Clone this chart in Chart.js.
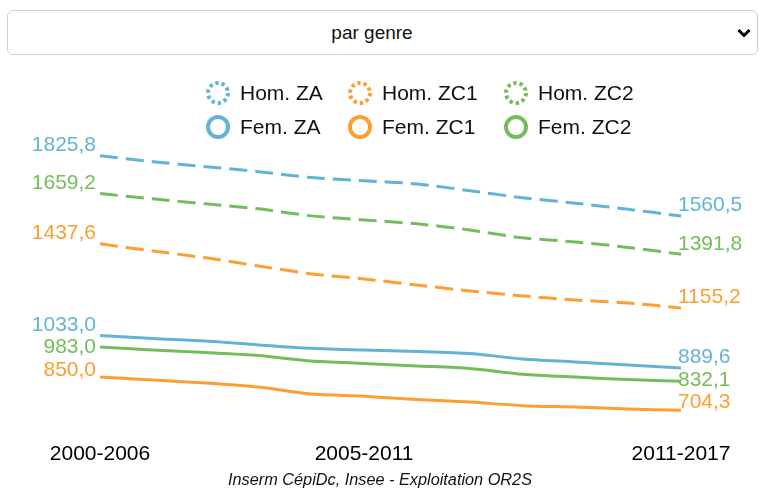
<!DOCTYPE html>
<html lang="fr">
<head>
<meta charset="utf-8">
<title>Mortalité par genre</title>
<script src="https://cdn.jsdelivr.net/npm/chart.js@4.4.1/dist/chart.umd.min.js"></script>
<style>
  html, body { margin: 0; padding: 0; background: #fff; }
  body {
    position: relative;
    width: 760px;
    height: 488px;
    overflow: hidden;
    font-family: "Liberation Sans", Arial, sans-serif;
  }
  #filtre {
    position: absolute;
    left: 7px;
    top: 10px;
    width: 751px;
    height: 45px;
    box-sizing: border-box;
    padding: 0 31px 0 10px;
    border: 1px solid #cfcfcf;
    border-radius: 6px;
    background: #fff url("data:image/svg+xml,%3Csvg xmlns='http://www.w3.org/2000/svg' width='14' height='10'%3E%3Cpath d='M1.5 2 L7 7.5 L12.5 2' fill='none' stroke='%23000' stroke-width='3'/%3E%3C/svg%3E") no-repeat right 6px center;
    -webkit-appearance: none;
    appearance: none;
    font: 19px "Liberation Sans", Arial, sans-serif;
    color: #111;
    text-align: center;
    text-align-last: center;
  }
  #legende {
    position: absolute;
    left: 206px;
    top: 81px;
    display: grid;
    grid-template-columns: 142px 156px auto;
    row-gap: 10px;
  }
  .item {
    display: flex;
    align-items: center;
    height: 24px;
    font-size: 21px;
    color: #111;
    white-space: nowrap;
  }
  .item svg { margin-right: 10px; flex: none; }
  #zone {
    position: absolute;
    left: 0;
    top: 60px;
    width: 760px;
    height: 430px;
  }
</style>
</head>
<body>
<select id="filtre">
  <option selected>par genre</option>
  <option>ensemble</option>
</select>
<div id="zone"><canvas id="evolution"></canvas></div>
<div id="legende"></div>

<script>
const periods = [
  "2000-2006", "2001-2007", "2002-2008", "2003-2009", "2004-2010", "2005-2011",
  "2006-2012", "2007-2013", "2008-2014", "2009-2015", "2010-2016", "2011-2017",
];
const shownPeriods = ["2000-2006", "2005-2011", "2011-2017"];

const homZA = [1825.8, 1800, 1778, 1756, 1730, 1716, 1702, 1672, 1641, 1617, 1590, 1560.5];
const homZC1 = [1437.6, 1406, 1376, 1340, 1305, 1283, 1256, 1230, 1208, 1190, 1177, 1155.2];
const homZC2 = [1659.2, 1636, 1614, 1592, 1561, 1543, 1526, 1499, 1464, 1446, 1422, 1391.8];
const femZA = [1033.0, 1020, 1009, 992, 977, 969, 963, 954, 930, 917, 903, 889.6];
const femZC1 = [850.0, 837, 824, 806, 775, 766, 751, 740, 724, 718, 709, 704.3];
const femZC2 = [983.0, 969, 958, 945, 921, 910, 899, 888, 863, 850, 839, 832.1];

const BLUE = "#63b4d4";
const ORANGE = "#fe9e30";
const GREEN = "#74bd5c";
const FONT = '"Liberation Sans", Arial, sans-serif';

Chart.defaults.font.family = FONT;

const serie = (label, data, color, dashed) => ({
  label,
  data,
  borderColor: color,
  backgroundColor: color,
  borderWidth: 3,
  borderDash: dashed ? [18, 8] : [],
  pointRadius: 0,
  tension: 0.25,
  fill: false,
});

const datasets = [
  serie("Hom. ZA", homZA, BLUE, true),
  serie("Hom. ZC1", homZC1, ORANGE, true),
  serie("Hom. ZC2", homZC2, GREEN, true),
  serie("Fem. ZA", femZA, BLUE, false),
  serie("Fem. ZC1", femZC1, ORANGE, false),
  serie("Fem. ZC2", femZC2, GREEN, false),
];

// legend rings, dotted ring for men, plain ring for women
document.getElementById("legende").innerHTML = datasets
  .map((ds) => {
    const dash = ds.borderDash.length ? ' stroke-dasharray="3.3 3"' : "";
    return `<div class="item"><svg width="24" height="24"><circle cx="12" cy="12" r="10" fill="#fff" stroke="${ds.borderColor}" stroke-width="4"${dash}/></svg>${ds.label}</div>`;
  })
  .join("");

const formatValue = (v) => v.toFixed(1).replace(".", ",");

// values written at both ends of each line, pushed down when they collide
const endLabels = {
  id: "endLabels",
  afterDatasetsDraw(chart) {
    const ctx = chart.ctx;
    ctx.save();
    ctx.font = "21px " + FONT;
    ctx.textBaseline = "middle";
    ["first", "last"].forEach((side) => {
      const items = chart.data.datasets.map((ds, i) => {
        const points = chart.getDatasetMeta(i).data;
        const idx = side === "first" ? 0 : points.length - 1;
        return { x: points[idx].x, y: points[idx].y, text: formatValue(ds.data[idx]), color: ds.borderColor };
      });
      items.sort((a, b) => a.y - b.y);
      let prev = -Infinity;
      items.forEach((it) => {
        const y = Math.max(it.y - 10.5, prev + 22.5);
        prev = y;
        ctx.fillStyle = it.color;
        if (side === "first") {
          ctx.textAlign = "right";
          ctx.fillText(it.text, it.x - 4, y);
        } else {
          ctx.textAlign = "left";
          ctx.fillText(it.text, it.x - 3, y);
        }
      });
    });
    ctx.restore();
  },
};

const ctx = document.getElementById("evolution").getContext("2d");

new Chart(ctx, {
  type: "line",
  data: { labels: periods, datasets },
  options: {
    responsive: true,
    maintainAspectRatio: false,
    animation: false,
    events: [],
    layout: { padding: { top: 79, bottom: 0 } },
    plugins: {
      legend: { display: false },
      tooltip: { enabled: false },
      subtitle: {
        display: true,
        position: "bottom",
        text: "Inserm CépiDc, Insee - Exploitation OR2S",
        color: "#111",
        font: { size: 16.3, style: "italic" },
        padding: 0,
      },
    },
    scales: {
      x: {
        grid: { display: false, drawTicks: false },
        border: { display: false },
        ticks: {
          autoSkip: false,
          maxRotation: 0,
          padding: 19,
          color: "#000",
          font: { size: 21 },
          callback: (value, index) => (shownPeriods.includes(periods[index]) ? periods[index] : ""),
        },
        afterFit: (scale) => { scale.height = 48; },
      },
      y: {
        min: 650,
        max: 1900,
        ticks: { display: false },
        grid: { display: false },
        border: { display: false },
        afterFit: (scale) => { scale.width = 100; },
      },
      yDroite: {
        position: "right",
        ticks: { display: false },
        grid: { display: false },
        border: { display: false },
        afterFit: (scale) => { scale.width = 79; },
      },
    },
  },
  plugins: [endLabels],
});
</script>
</body>
</html>
